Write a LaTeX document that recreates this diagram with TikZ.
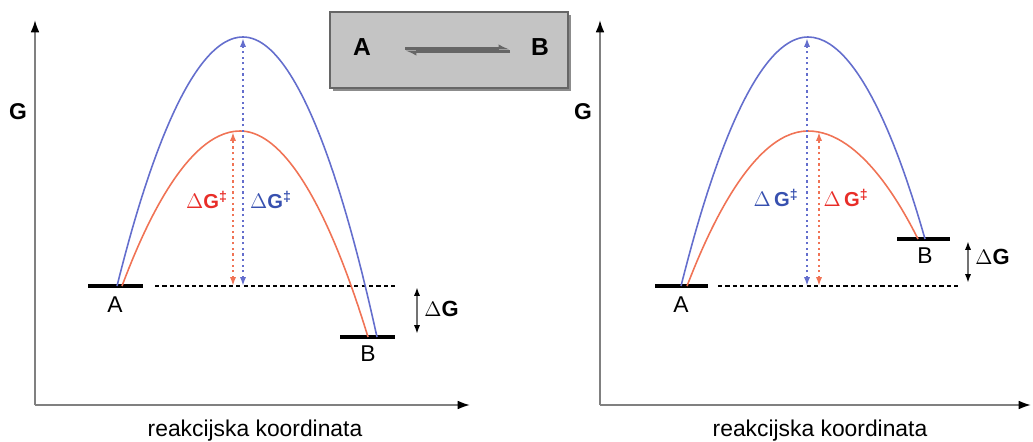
\documentclass[tikz,border=0pt]{standalone}
\usepackage{fontspec}
\setmainfont{Liberation Sans}
\usetikzlibrary{arrows.meta}
\definecolor{curveblue}{RGB}{100,110,205}
\definecolor{curvered}{RGB}{240,115,85}
\definecolor{textblue}{RGB}{55,80,175}
\definecolor{textred}{RGB}{232,45,40}
\definecolor{boxgray}{RGB}{196,196,196}
\newcommand{\dGact}{$\Delta$\textbf{G}\textsuperscript{\textbf{‡}}}
\newcommand{\dGsp}{$\Delta$\,\textbf{G}\textsuperscript{\textbf{‡}}}
\begin{document}
\begin{tikzpicture}[x=0.02cm, y=-0.02cm,
	axis/.style={draw=gray, line width=1.1pt, -{Latex[length=7pt,width=5pt,color=black]}},
	level/.style={line width=2.4pt},
	baseline/.style={dash pattern=on 2.4pt off 1.8pt, line width=0.8pt},
	barrier/.style={line width=0.9pt},
	gap/.style={dash pattern=on 1.3pt off 1.9pt, line width=1pt, {Latex[length=5pt,width=3.5pt]}-{Latex[length=5pt,width=3.5pt]}},
	diff/.style={draw=black!55, line width=1pt, {Latex[length=5pt,width=3.5pt,color=black]}-{Latex[length=5pt,width=3.5pt,color=black]}},
	big/.style={font=\fontsize{13}{15}\selectfont, inner sep=0pt},
	small/.style={font=\fontsize{11.5}{13}\selectfont, inner sep=0pt},
	mid/.style={font=\fontsize{12.5}{14}\selectfont, inner sep=0pt},
	]
	\useasboundingbox (0,0) rectangle (1033,442);
	% Left diagram: axes and labels
	\coordinate (lorig) at (35,405);
	\coordinate (lytip) at (35,20);
	\coordinate (lxtip) at (470,405);
	\draw[axis] (lorig) -- (lytip);
	\draw[axis] (lorig) -- (lxtip);
	\node[big, font=\fontsize{13}{15}\selectfont\bfseries] (lG) at (18,112) {G};
	\node[big] (lxlab) at (255,431) {reakcijska koordinata};
	% Left diagram: levels
	\coordinate (lA1) at (88,286);
	\coordinate (lA2) at (143,286);
	\coordinate (lB1) at (340,337);
	\coordinate (lB2) at (395,337);
	\draw[level] (lA1) -- (lA2);
	\draw[level] (lB1) -- (lB2);
	\node[big] (lAlab) at (115,305) {A};
	\node[big] (lBlab) at (368,354) {B};
	\coordinate (ldash1) at (155,286);
	\coordinate (ldash2) at (395,286);
	\draw[baseline] (ldash1) -- (ldash2);
	% Left diagram: barriers
	\draw[barrier, curveblue] (117,286) parabola bend (243,37) (377,337);
	\draw[barrier, curvered] (122,286) parabola bend (240,131) (368,337);
	\coordinate (lredlo) at (233,286);
	\coordinate (lredhi) at (233,132);
	\coordinate (lbluelo) at (243,286);
	\coordinate (lbluehi) at (243,38);
	\draw[gap, curvered] (lredlo) -- (lredhi);
	\draw[gap, curveblue] (lbluelo) -- (lbluehi);
	\node[small, textred] (lredlab) at (207,200) {\dGact};
	\node[small, textblue] (lbluelab) at (271,200) {\dGact};
	\coordinate (ldG1) at (417,287);
	\coordinate (ldG2) at (417,334);
	\draw[diff] (ldG1) -- (ldG2);
	\node[mid, anchor=west] (ldGlab) at (424,309) {$\Delta$\textbf{G}};
	% Box with the equilibrium
	\fill[black!45] (333,15) rectangle (571,91);
	\draw[draw=black!60, fill=boxgray, line width=0.8pt] (330,12) rectangle (568,88);
	\node[big, font=\fontsize{14}{16}\selectfont\bfseries] (boxA) at (362,47) {A};
	\node[big, font=\fontsize{14}{16}\selectfont\bfseries] (boxB) at (540,47) {B};
	\coordinate (eqA1) at (405,48.5);
	\coordinate (eqB1) at (510,48.5);
	\coordinate (eqA2) at (405,51.5);
	\coordinate (eqB2) at (510,51.5);
	\draw[black!60, line width=1.6pt, -{Latex[left,length=5pt,width=5pt]}] (eqA1) -- (eqB1);
	\draw[black!60, line width=1.6pt, -{Latex[left,length=5pt,width=5pt]}] (eqB2) -- (eqA2);
	% Right diagram: axes and labels
	\coordinate (rorig) at (600,405);
	\coordinate (rytip) at (600,20);
	\coordinate (rxtip) at (1031,405);
	\draw[axis] (rorig) -- (rytip);
	\draw[axis] (rorig) -- (rxtip);
	\node[big, font=\fontsize{13}{15}\selectfont\bfseries] (rG) at (583,112) {G};
	\node[big] (rxlab) at (820,431) {reakcijska koordinata};
	% Right diagram: levels
	\coordinate (rA1) at (655,286);
	\coordinate (rA2) at (708,286);
	\coordinate (rB1) at (897,239);
	\coordinate (rB2) at (950,239);
	\draw[level] (rA1) -- (rA2);
	\draw[level] (rB1) -- (rB2);
	\node[big] (rAlab) at (681,305) {A};
	\node[big] (rBlab) at (925,256) {B};
	\coordinate (rdash1) at (718,286);
	\coordinate (rdash2) at (960,286);
	\draw[baseline] (rdash1) -- (rdash2);
	% Right diagram: barriers
	\draw[barrier, curveblue] (681,286) parabola bend (808,37) (925,239);
	\draw[barrier, curvered] (687,286) parabola bend (808,131) (918,239);
	\coordinate (rbluelo) at (807,286);
	\coordinate (rbluehi) at (807,38);
	\coordinate (rredlo) at (819,286);
	\coordinate (rredhi) at (819,132);
	\draw[gap, curveblue] (rbluelo) -- (rbluehi);
	\draw[gap, curvered] (rredlo) -- (rredhi);
	\node[small, textblue] (rbluelab) at (776,198) {\dGsp};
	\node[small, textred] (rredlab) at (846,198) {\dGsp};
	\coordinate (rdG1) at (968,241);
	\coordinate (rdG2) at (968,283);
	\draw[diff] (rdG1) -- (rdG2);
	\node[mid, anchor=west] (rdGlab) at (975,257) {$\Delta$\textbf{G}};
\end{tikzpicture}
\end{document}
